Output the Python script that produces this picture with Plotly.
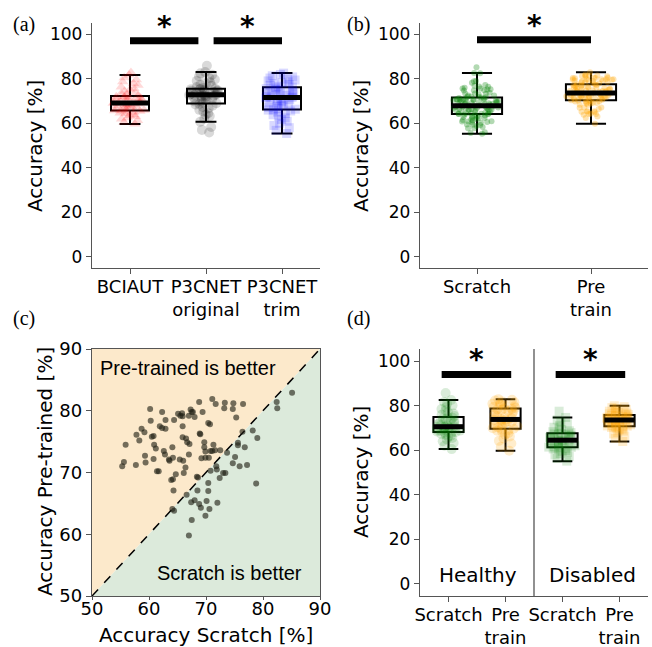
import numpy as np
import plotly.graph_objects as go

W, H = 652, 647

# ---------------- data ----------------
# panel (a)
groups_a = ["BCIAUT", "P3CNET<br>original", "P3CNET<br>trim"]
bciaut = [59.6, 60.4, 61.2, 61.9, 62.5, 63.0, 63.5, 63.9, 64.3, 64.6, 64.9, 65.2, 65.4, 65.6,
          65.7, 65.8,
          66.0, 66.3, 66.6, 66.9, 67.2, 67.5, 67.7, 67.9, 68.2, 68.4, 68.6, 68.8, 68.9,
          69.0, 69.2,
          69.4, 69.6, 69.8, 70.0, 70.2, 70.4, 70.6, 70.8, 71.0, 71.2, 71.5, 71.7, 71.9,
          72.0, 72.4,
          72.8, 73.3, 73.8, 74.4, 75.0, 75.6, 76.3, 77.0, 77.8, 78.6, 79.5, 80.4, 81.7, 82.8]
p3c_original = [55.8, 57.0, 58.3, 60.7, 62.0, 63.2, 63.8, 64.5, 65.3, 66.0, 66.7, 67.3, 67.9, 68.4,
                68.7, 69.0,
                69.3, 69.7, 70.0, 70.4, 70.7, 71.0, 71.3, 71.6, 71.9, 72.1, 72.3, 72.5, 72.6,
                72.7, 72.8,
                73.0, 73.2, 73.4, 73.6, 73.8, 74.0, 74.2, 74.4, 74.6, 74.8, 75.0, 75.1, 75.3,
                75.4, 75.5,
                75.8, 76.3, 76.8, 77.3, 77.8, 78.4, 79.0, 79.6, 80.3, 81.0, 81.8, 82.4, 83.0, 85.8]
p3c_trim = [55.4, 56.8, 58.0, 59.0, 60.0, 60.9, 61.7, 62.4, 63.1, 63.8, 64.4, 65.0, 65.5, 65.9,
            66.0, 66.3,
            66.7, 67.1, 67.5, 67.9, 68.3, 68.7, 69.1, 69.5, 69.9, 70.3, 70.7, 71.0, 71.3,
            71.4, 71.6,
            71.9, 72.2, 72.5, 72.8, 73.1, 73.4, 73.7, 74.0, 74.3, 74.6, 74.9, 75.2, 75.5,
            75.9, 76.3,
            76.6, 77.0, 77.4, 77.8, 78.2, 78.6, 79.0, 79.4, 79.8, 80.3, 80.8, 81.3, 81.9, 82.5]

# panels (b) and (c): per-subject accuracy, scratch vs pre-trained
scratch_acc = [55.3, 55.6, 55.9, 57.7, 57.8, 58.3, 58.7, 59.2, 59.3, 59.4,
               60.2, 60.3, 60.5, 60.8, 60.8, 60.9, 61.2, 61.4, 61.7, 61.9,
               62.3, 62.3, 62.6, 62.9, 62.8, 62.9, 63.5, 63.6, 63.9, 64.1,
               64.2, 64.2, 64.3, 64.4, 64.1, 64.4, 64.7, 65.1, 65.4, 65.5,
               65.8, 65.9, 65.9, 66.0, 66.1, 65.9, 66.4, 66.5, 66.7, 66.6,
               67.0, 67.0, 67.1, 67.3, 67.5, 67.7, 68.0, 68.4, 68.6, 68.8,
               68.9, 69.0, 69.2, 69.4, 69.7, 69.7, 69.9, 69.9, 70.4, 70.5,
               70.7, 70.8, 71.1, 71.1, 71.3, 71.6, 71.7, 72.5, 73.2, 73.3,
               74.7, 74.8, 75.3, 76.5, 76.4,
               67.0, 67.5, 67.4, 68.0, 68.5, 68.8, 69.1, 69.9, 70.1, 70.4,
               70.4, 70.6, 70.8, 71.8, 71.9, 72.0, 72.4, 73.0, 73.4, 73.7,
               74.7, 75.1, 75.6, 75.6, 75.9, 76.8, 77.2, 78.2, 78.8, 79.0,
               82.4, 82.5, 85.1]
pretrain_acc = [71.0, 71.7, 74.5, 71.2, 76.1, 75.2, 77.1, 76.5, 72.7, 71.6,
                80.3, 78.4, 75.8, 75.9, 72.2, 74.5, 73.9, 70.2, 70.2, 77.5,
                79.8, 77.2, 73.5, 78.5, 72.9, 77.1, 72.1, 71.9, 68.8, 74.1,
                72.4, 68.9, 67.1, 78.5, 64.1, 63.8, 69.7, 79.5, 72.1, 79.2,
                79.6, 75.7, 77.5, 71.9, 69.9, 79.1, 70.8, 75.5, 74.9, 66.4,
                79.2, 72.9, 74.6, 80.2, 79.8, 79.8, 79.0, 69.3, 69.2, 81.4,
                76.3, 76.2, 72.3, 79.8, 74.9, 74.1, 73.4, 72.4, 78.0, 72.4,
                77.8, 73.5, 73.5, 81.9, 74.5, 73.6, 81.1, 73.6, 80.4, 81.3,
                80.3, 81.2, 78.9, 81.1, 76.6,
                59.8, 62.3, 65.2, 65.5, 67.1, 64.9, 64.3, 63.0, 65.4, 68.3,
                67.0, 64.1, 70.3, 71.0, 70.5, 65.1, 69.1, 69.9, 69.9, 73.2,
                71.5, 72.5, 74.8, 74.4, 71.0, 74.1, 71.2, 76.8, 68.2, 75.6,
                81.4, 80.4, 82.9]
assert len(scratch_acc) == len(pretrain_acc)
groups_b = ["Scratch", "Pre<br>train"]

# panel (d)
groups_d = ["Scratch", "Pre<br>train", "Scratch", "Pre<br>train"]
healthy_scratch = [60.5, 62.0, 63.2, 64.0, 64.8, 65.5, 66.0, 66.5, 66.9, 67.3, 67.7, 68.0,
                   68.2, 68.4, 68.6, 68.8, 69.0, 69.2, 69.5, 69.7, 69.9, 70.1, 70.3, 70.4,
                   70.5, 70.6, 70.8, 71.1, 71.4, 71.8, 72.2, 72.6, 73.0, 73.4, 73.8, 74.2,
                   74.6, 74.9, 75.3, 75.9, 76.5, 77.1, 77.8, 78.5, 79.3, 80.0, 80.8, 81.6,
                   82.5, 85.7]
healthy_pretrain = [59.8, 61.5, 63.0, 64.2, 65.3, 66.2, 67.0, 67.6, 68.2, 68.7, 69.1, 69.4,
                    69.6, 69.9, 70.3, 70.7, 71.1, 71.5, 71.9, 72.3, 72.7, 73.0, 73.3, 73.6,
                    73.7, 73.9, 74.3, 74.8, 75.3, 75.8, 76.3, 76.8, 77.2, 77.6, 78.0, 78.3,
                    78.6, 78.7, 79.0, 79.4, 79.7, 80.0, 80.4, 80.8, 81.1, 81.5, 81.9, 82.3,
                    82.6, 82.9]
disabled_scratch = [55.1, 56.3, 57.2, 57.9, 58.5, 59.0, 59.5, 59.9, 60.3, 60.6, 60.9, 61.1,
                    61.3, 61.4, 61.7, 62.0, 62.3, 62.6, 62.9, 63.2, 63.5, 63.8, 64.0, 64.3,
                    64.4, 64.6, 64.8, 65.1, 65.4, 65.7, 66.0, 66.3, 66.6, 66.9, 67.1, 67.3,
                    67.4, 67.6, 67.9, 68.3, 68.7, 69.2, 69.7, 70.3, 71.0, 71.8, 72.7, 73.6,
                    74.7, 77.5]
disabled_pretrain = [63.9, 65.3, 66.4, 67.3, 68.0, 68.6, 69.1, 69.5, 69.9, 70.2, 70.4, 70.6,
                     70.8, 70.9, 71.1, 71.4, 71.7, 72.0, 72.3, 72.6, 72.8, 73.0, 73.2, 73.4,
                     73.5, 73.6, 73.8, 74.0, 74.2, 74.4, 74.6, 74.8, 75.0, 75.2, 75.4, 75.6,
                     75.7, 75.8, 76.0, 76.3, 76.6, 76.9, 77.2, 77.5, 77.9, 78.3, 78.7, 79.1,
                     79.5, 79.9]
group_labels_d = ["Healthy", "Disabled"]

acc_ticks = [0, 20, 40, 60, 80, 100]
scatter_ticks = [50, 60, 70, 80, 90]
scatter_lim = [50, 90]

# ---------------- helpers ----------------
GREY = "#555555"
FONT = "DejaVu Sans"
fig = go.Figure()


def px_x(p):
    return p / W


def px_y(p):
    return 1 - p / H


def add_box(vals, pos, ax, width, color, symbol, size, opacity, whisk, jitter=0.95):
    fig.add_trace(go.Box(
        y=vals, x0=pos, width=width, boxpoints="all", jitter=jitter, pointpos=0,
        fillcolor="rgba(0,0,0,0)", line=dict(color="black", width=2),
        whiskerwidth=whisk,
        marker=dict(color=color, symbol=symbol, size=size, opacity=opacity,
                    line=dict(width=0)),
        xaxis="x" + ax, yaxis="y" + ax, showlegend=False, hoverinfo="skip"))
    med = float(np.median(vals))
    fig.add_shape(type="line", xref="x" + ax, yref="y" + ax,
                  x0=pos - width / 2, x1=pos + width / 2, y0=med, y1=med,
                  line=dict(color="black", width=5))


def sig(ax, x0, x1, yv, star_y):
    fig.add_shape(type="line", xref="x" + ax, yref="y" + ax, x0=x0, x1=x1, y0=yv, y1=yv,
                  line=dict(color="black", width=7))
    fig.add_annotation(x=(x0 + x1) / 2, y=star_y, xref="x" + ax, yref="y" + ax,
                       text="<b>*</b>", showarrow=False, yanchor="middle",
                       font=dict(family=FONT, size=28, color="black"))


# panel (a)
add_box(bciaut, 1, "", 0.5, "red", "triangle-up", 10, 0.15, 0.55)
add_box(p3c_original, 2, "", 0.5, "black", "circle", 10, 0.15, 0.55)
add_box(p3c_trim, 3, "", 0.5, "blue", "square", 9, 0.15, 0.55)
sig("", 1.0, 1.9, 97, 103.5)
sig("", 2.1, 3.0, 97, 103.5)

# panel (b)
add_box(scratch_acc, 1, "2", 0.44, "green", "circle", 6, 0.3, 0.6, 1.0)
add_box(pretrain_acc, 2, "2", 0.44, "orange", "circle", 6, 0.3, 0.6, 1.0)
sig("2", 1.0, 2.0, 97.5, 104)

# panel (c)
lo, hi = scatter_lim
fig.add_trace(go.Scatter(x=[lo, lo, hi, lo], y=[lo, hi, hi, lo], fill="toself",
                         fillcolor="#fce9cb", line=dict(width=0), mode="lines",
                         xaxis="x3", yaxis="y3", showlegend=False, hoverinfo="skip"))
fig.add_trace(go.Scatter(x=[lo, hi, hi, lo], y=[lo, lo, hi, lo], fill="toself",
                         fillcolor="#dceadb", line=dict(width=0), mode="lines",
                         xaxis="x3", yaxis="y3", showlegend=False, hoverinfo="skip"))
fig.add_trace(go.Scatter(x=[lo, hi], y=[lo, hi], mode="lines",
                         line=dict(color="black", width=1.5, dash="dash"),
                         xaxis="x3", yaxis="y3", showlegend=False, hoverinfo="skip"))
fig.add_trace(go.Scatter(x=scratch_acc, y=pretrain_acc, mode="markers",
                         marker=dict(color="rgba(30,30,20,0.62)", size=6, line=dict(width=0)),
                         xaxis="x3", yaxis="y3", showlegend=False, hoverinfo="skip"))
fig.add_annotation(x=0.026, y=0.923, xref="x3 domain", yref="y3 domain",
                   text="Pre-trained is better", showarrow=False, xanchor="left",
                   yanchor="middle",
                   font=dict(family="Liberation Sans", size=20, color="black"))
fig.add_annotation(x=0.93, y=0.093, xref="x3 domain", yref="y3 domain",
                   text="Scratch is better", showarrow=False, xanchor="right",
                   yanchor="middle",
                   font=dict(family="Liberation Sans", size=20, color="black"))

# panel (d)
add_box(healthy_scratch, 1, "4", 0.53, "green", "circle", 10, 0.15, 0.65)
add_box(healthy_pretrain, 2, "4", 0.53, "orange", "circle", 10, 0.2, 0.65)
add_box(disabled_scratch, 3, "4", 0.53, "green", "square", 9, 0.15, 0.65)
add_box(disabled_pretrain, 4, "4", 0.53, "orange", "square", 9, 0.2, 0.65)
sig("4", 0.88, 2.1, 94, 100.5)
sig("4", 2.88, 4.1, 94, 100.5)
fig.add_shape(type="line", xref="x4", yref="y4 domain", x0=2.5, x1=2.5, y0=0, y1=1,
              line=dict(color=GREY, width=1.3))
for i, lab in enumerate(group_labels_d):
    fig.add_annotation(x=1.52 + 2 * i, y=4, xref="x4", yref="y4", text=lab, showarrow=False,
                       font=dict(family=FONT, size=20, color="black"))

# ---------------- axes ----------------
base_ax = dict(showline=True, linecolor=GREY, linewidth=1.3, ticks="outside", ticklen=5,
               tickwidth=1.3, tickcolor=GREY, showgrid=False, zeroline=False,
               automargin=False, tickfont=dict(family=FONT, size=17, color="black"))
xt = dict(family=FONT, size=18, color="black")
cat_x = dict(tickangle=0, tickfont=xt, ticklabelstandoff=-3)
dom_x_left = [px_x(92), px_x(320)]
dom_x_right = [px_x(420), px_x(648)]
dom_y_top = [px_y(268), px_y(23)]
dom_y_bot = [px_y(596), px_y(349)]

fig.update_layout(
    width=W, height=H, margin=dict(l=0, r=0, t=0, b=0, pad=0, autoexpand=False),
    paper_bgcolor="white", plot_bgcolor="white", showlegend=False,
    xaxis=dict(base_ax, domain=dom_x_left, range=[0.5, 3.5], tickvals=[1, 2, 3],
               ticktext=groups_a, anchor="y", type="linear", **cat_x),
    yaxis=dict(base_ax, domain=dom_y_top, range=[-5, 105], tickvals=acc_ticks, anchor="x"),
    xaxis2=dict(base_ax, domain=dom_x_right, range=[0.5, 2.5], tickvals=[1, 2],
                ticktext=groups_b, anchor="y2", type="linear", **cat_x),
    yaxis2=dict(base_ax, domain=dom_y_top, range=[-5, 105], tickvals=acc_ticks, anchor="x2"),
    xaxis3=dict(base_ax, domain=dom_x_left, range=scatter_lim, tickvals=scatter_ticks,
                anchor="y3", mirror=True, ticklen=3, ticklabelstandoff=-7, tickangle=0,
                tickfont=dict(family=FONT, size=18, color="black")),
    yaxis3=dict(base_ax, domain=dom_y_bot, range=scatter_lim, tickvals=scatter_ticks,
                anchor="x3", mirror=True, tickfont=dict(family=FONT, size=18, color="black")),
    xaxis4=dict(base_ax, domain=dom_x_right, range=[0.5, 4.5], tickvals=[1, 2, 3, 4],
                ticktext=groups_d, anchor="y4", type="linear", **cat_x),
    yaxis4=dict(base_ax, domain=dom_y_bot, range=[-5.4, 105.4], tickvals=acc_ticks, anchor="x4"),
)


# axis titles and panel labels
def ptext(x, y, text, size, angle=0, family=FONT):
    fig.add_annotation(x=px_x(x), y=px_y(y), xref="paper", yref="paper", text=text,
                       showarrow=False, textangle=angle, xanchor="center", yanchor="middle",
                       font=dict(family=family, size=size, color="black"))


ptext(35, 146, "Accuracy [%]", 20, -90)
ptext(361, 146, "Accuracy [%]", 20, -90)
ptext(45, 472, "Accuracy Pre-trained [%]", 20, -90)
ptext(206, 635, "Accuracy Scratch [%]", 20)
ptext(361, 472, "Accuracy [%]", 20, -90)
for lab, x, y in [("(a)", 24, 25), ("(b)", 358, 25), ("(c)", 24, 318), ("(d)", 358, 318)]:
    ptext(x, y, lab, 20, 0, "Liberation Serif")

fig.write_html("out.html")
